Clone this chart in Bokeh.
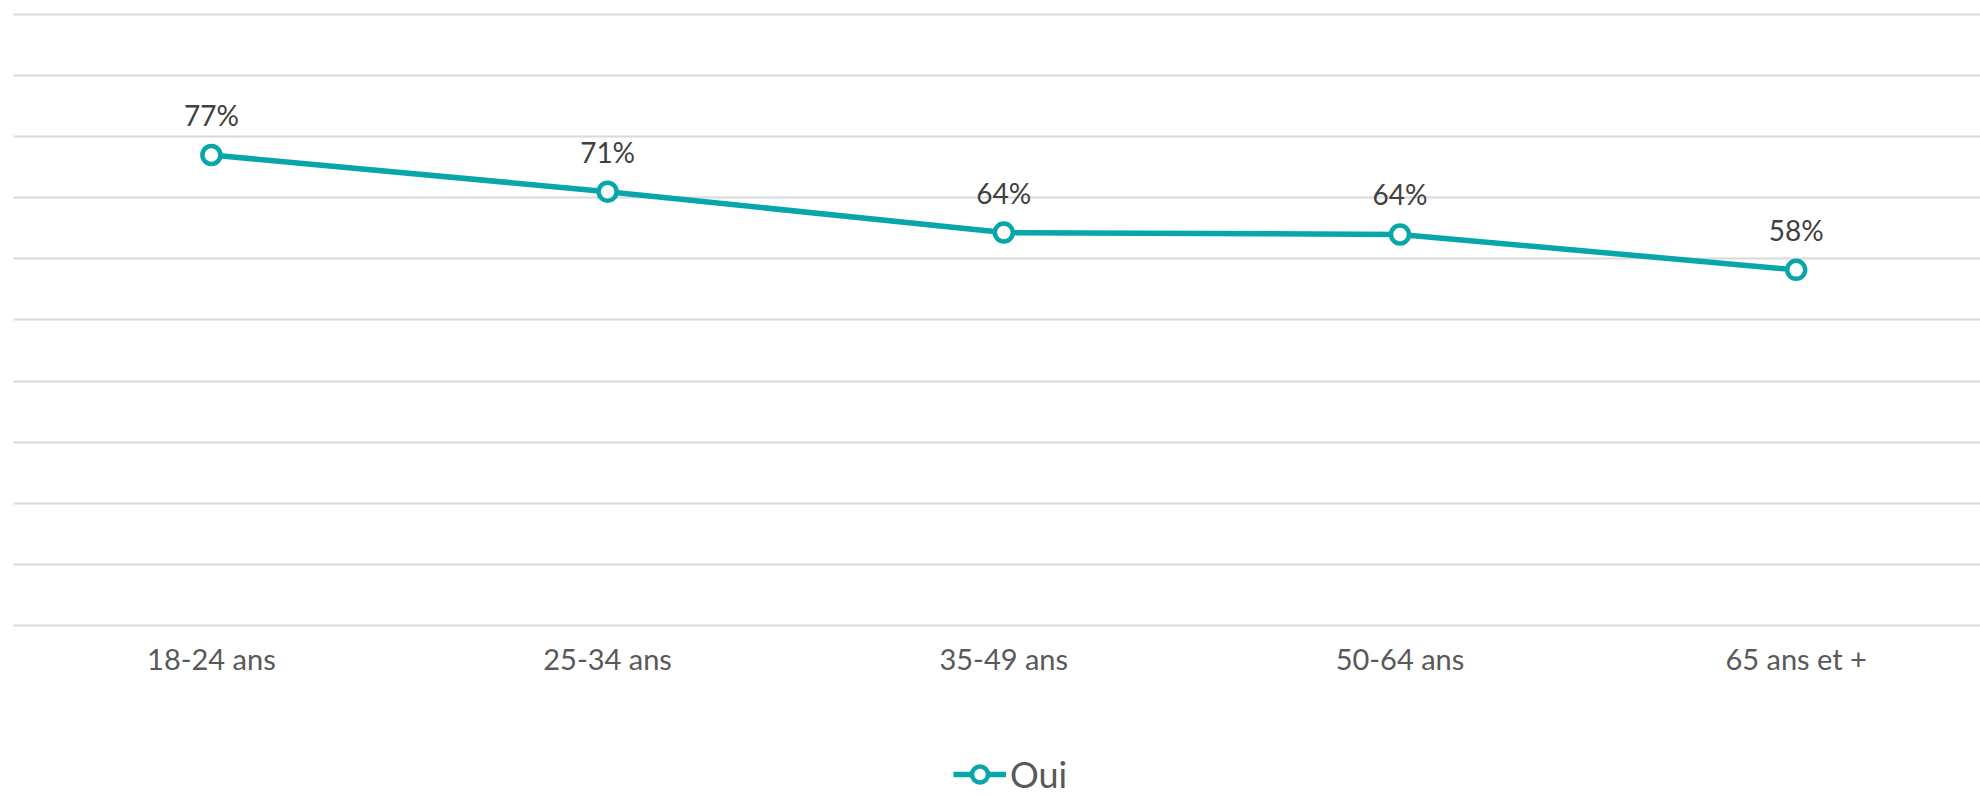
from bokeh.plotting import figure
from bokeh.models import (ColumnDataSource, FixedTicker, Grid,
                          LinearAxis, Legend, LegendItem, Range1d)
from bokeh.core.properties import value
from bokeh.embed import file_html
from bokeh.resources import INLINE

categories = ["18-24 ans", "25-34 ans", "35-49 ans", "50-64 ans", "65 ans et +"]
oui_values = [77.0, 71.0, 64.3, 64.0, 58.2]
oui_labels = ["77%", "71%", "64%", "64%", "58%"]
series_name = "Oui"
y_ticks = [0, 10, 20, 30, 40, 50, 60, 70, 80, 90, 100]

TEAL = "#07A6AB"
FONT = "Lato"

xs = list(range(len(categories)))
src = ColumnDataSource(dict(x=xs, y=oui_values, lab=oui_labels))

p = figure(width=1980, height=796, output_backend="svg", toolbar_location=None,
           x_axis_location=None, y_axis_location=None,
           x_range=Range1d(-0.4995, 4.4652), y_range=Range1d(-27.99, 100.65),
           min_border_left=13, min_border_right=0, min_border_top=10, min_border_bottom=0)
for g in p.grid:
    g.visible = False
p.outline_line_color = None
p.background_fill_color = "white"
p.border_fill_color = "white"

grid = Grid(dimension=1, ticker=FixedTicker(ticks=y_ticks),
            grid_line_color="#D9D9D9", grid_line_width=2)
p.add_layout(grid)

xaxis = LinearAxis(ticker=FixedTicker(ticks=xs), fixed_location=0,
                   major_label_overrides={i: c for i, c in enumerate(categories)})
xaxis.axis_line_color = None
xaxis.major_tick_line_color = None
xaxis.minor_tick_line_color = None
xaxis.major_tick_out = 0
xaxis.major_tick_in = 0
xaxis.major_label_standoff = 16
xaxis.major_label_text_font = FONT
xaxis.major_label_text_font_size = "29px"
xaxis.major_label_text_color = "#595959"
p.add_layout(xaxis, "below")

ln = p.line("x", "y", source=src, line_color=TEAL, line_width=5.5)
sc = p.scatter("x", "y", source=src, marker="circle", size=18, fill_color="white",
               line_color=TEAL, line_width=4.5)

p.text("x", "y", text="lab", source=src, y_offset=-40, text_align="center",
       text_baseline="alphabetic", text_font=value(FONT), text_font_size="28px",
       text_color="#404040")

legend = Legend(items=[LegendItem(label=series_name, renderers=[ln, sc])],
                location=(940, 0), orientation="horizontal",
                label_text_font=FONT, label_text_font_size="36px",
                label_text_color="#595959", glyph_width=53, glyph_height=40,
                label_standoff=4, padding=0, margin=0, border_line_color=None,
                background_fill_alpha=0)
p.add_layout(legend, "center")

open("out.html", "w").write(file_html(p, INLINE))
